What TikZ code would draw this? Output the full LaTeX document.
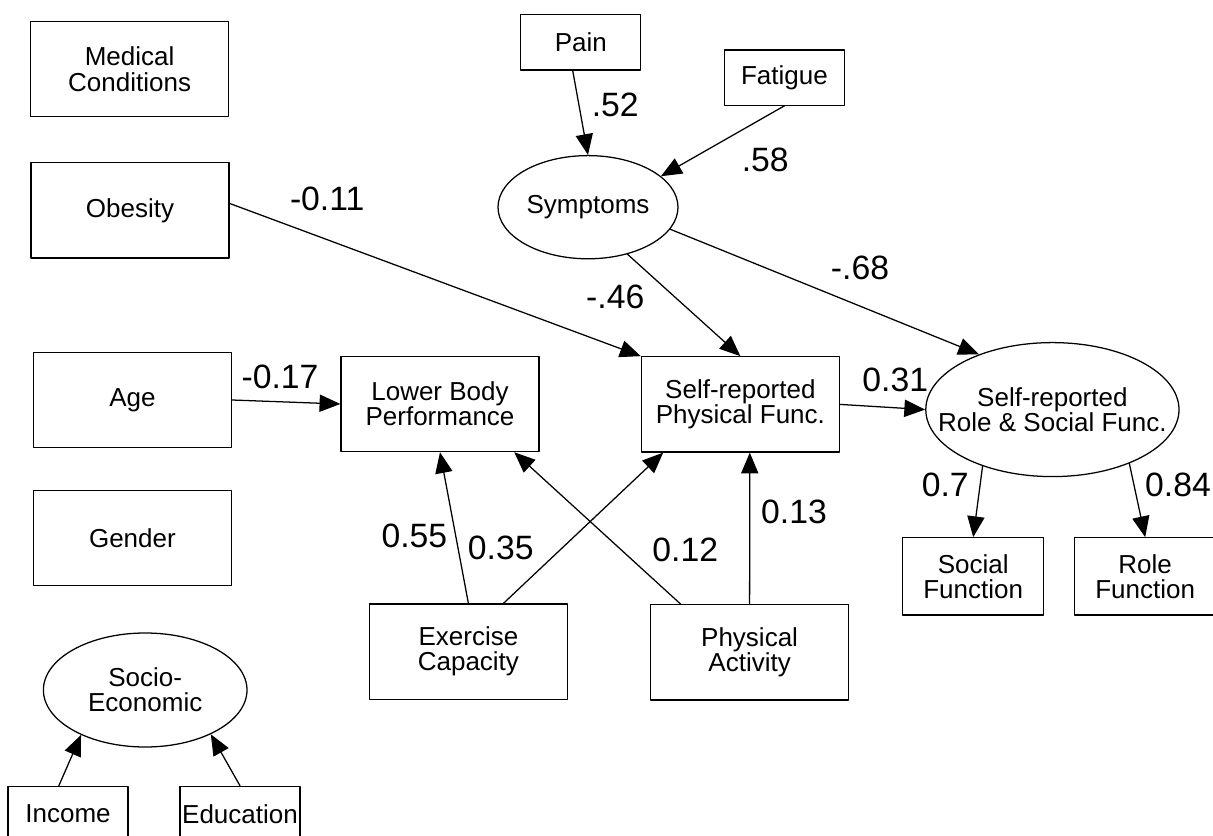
\documentclass[tikz,border=0pt]{standalone}
\usepackage{fontspec}
\setmainfont{Liberation Sans}
\usetikzlibrary{arrows.meta,positioning,shapes.geometric}
\tikzset{
  every picture/.append style={line cap=round,line join=round},
  sem box/.style={draw,rectangle,line width=0.9pt,inner sep=1pt,align=center,font=\fontsize{18.5}{17.8}\selectfont},
  sem latent/.style={draw,ellipse,line width=0.9pt,inner sep=-1cm,align=center,font=\fontsize{18.5}{17.8}\selectfont},
  sem path/.style={line width=0.9pt,-{Triangle[length=5.2mm,width=4.3mm]}},
  sem coef/.style={font=\fontsize{24}{28}\selectfont,inner sep=0pt}
}

\begin{document}
\begin{tikzpicture}[
  bigbox/.style={sem box,minimum width=4.95cm,minimum height=2.38cm},
  smallbox/.style={sem box,minimum width=3cm,minimum height=1.38cm},
  midbox/.style={sem box,minimum width=3.52cm,minimum height=1.93cm}
]
\useasboundingbox (0,0) rectangle (30.325,-20.9);

% left column
\node[bigbox] (med) at (3.24,-1.73) {Medical\\Conditions};
\node[bigbox] (obes) at (3.25,-5.26) {Obesity};
\node[bigbox] (age) at (3.31,-10.0) {Age};
\node[bigbox] (gender) at (3.31,-13.45) {Gender};
\node[sem latent,minimum width=5.09cm,minimum height=2.85cm] (socio) at (3.63,-17.25) {Socio-\\Economic};
\node[smallbox] (income) at (1.7,-20.35) {Income};
\node[smallbox] (edu) at (6.0,-20.35) {Education};

% symptoms
\node[smallbox] (pain) at (14.52,-1.06) {Pain};
\node[smallbox] (fatigue) at (19.61,-1.94) {Fatigue};
\node[sem latent,minimum width=4.5cm,minimum height=2.58cm] (sym) at (14.7,-5.18) {Symptoms};

% middle row
\node[bigbox] (lbp) at (11.0,-10.1) {Lower Body\\Performance};
\node[bigbox] (srpf) at (18.51,-10.11) {Self-reported\\Physical Func.};
\node[sem latent,minimum width=6.33cm,minimum height=3.35cm] (rsf) at (26.31,-10.24) {Self-reported\\Role \& Social Func.};
\node[midbox] (social) at (24.33,-14.41) {Social\\Function};
\node[midbox] (role) at (28.63,-14.41) {Role\\Function};
\node[bigbox] (exer) at (11.71,-16.29) {Exercise\\Capacity};
\node[bigbox] (phys) at (18.74,-16.31) {Physical\\Activity};

% paths
\draw[sem path] (pain.-106) -- (sym.north);
\draw[sem path] (fatigue.south) -- (sym.23);
\draw[sem path] (obes.4) -- (srpf.north west);
\draw[sem path] (sym.-50) -- (srpf.north);
\draw[sem path] (sym.-15) -- (rsf.143);
\draw[sem path] (age.east) -- (lbp.west);
\draw[sem path] (srpf.east) -- (rsf.west);
\draw[sem path] (rsf.-141) -- (social.north);
\draw[sem path] (rsf.-35) -- (role.north);
\draw[sem path] (exer.north) -- (lbp.south);
\draw[sem path] (exer.54) -- (srpf.-148);
\draw[sem path] (phys.145) -- (lbp.-33);
\draw[sem path] (phys.north) -- (srpf.-79);
\draw[sem path] (income.108) -- (socio.-145);
\draw[sem path] (edu.north) -- (socio.-34);

% coefficients
\node[sem coef] (wpain) at (15.38,-2.63) {.52};
\node[sem coef] (wfatigue) at (19.13,-4.0) {.58};
\node[sem coef] (wobes) at (8.18,-4.98) {-0.11};
\node[sem coef] (wsymsrpf) at (15.38,-7.43) {-.46};
\node[sem coef] (wsymrsf) at (21.5,-6.7) {-.68};
\node[sem coef] (wage) at (7.0,-9.43) {-0.17};
\node[sem coef] (wsrpf) at (22.38,-9.5) {0.31};
\node[sem coef] (wsocial) at (23.63,-12.13) {0.7};
\node[sem coef] (wrole) at (29.45,-12.13) {0.84};
\node[sem coef] (wexlbp) at (10.36,-13.4) {0.55};
\node[sem coef] (wexsrpf) at (12.52,-13.7) {0.35};
\node[sem coef] (wpalbp) at (17.13,-13.75) {0.12};
\node[sem coef] (wpasrpf) at (19.85,-12.8) {0.13};
\end{tikzpicture}
\end{document}
